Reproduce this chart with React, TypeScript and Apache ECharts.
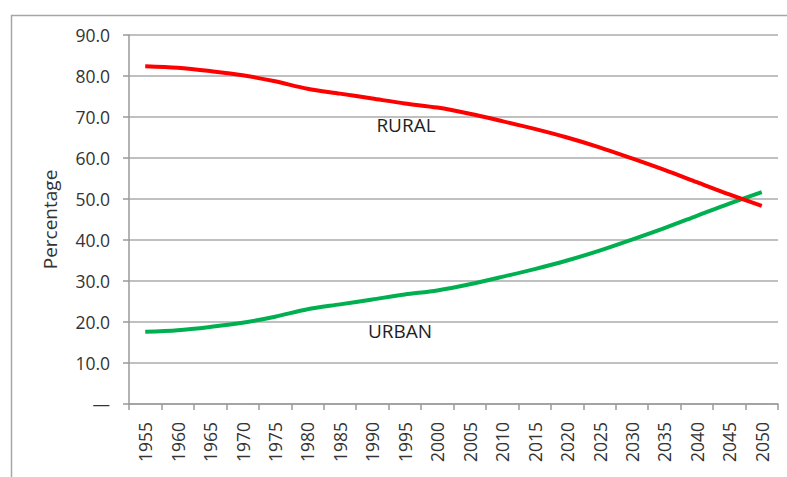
import React, { useEffect, useRef } from "react";
import * as echarts from "echarts";

const years = ["1955","1960","1965","1970","1975","1980","1985","1990","1995","2000","2005","2010","2015","2020","2025","2030","2035","2040","2045","2050"];
const rural = [82.4, 82.0, 81.2, 80.2, 78.7, 76.9, 75.7, 74.5, 73.3, 72.3, 70.8, 69.0, 67.1, 65.0, 62.6, 59.9, 57.1, 54.1, 51.1, 48.3];
const urban = [17.6, 18.0, 18.8, 19.8, 21.3, 23.1, 24.3, 25.5, 26.7, 27.7, 29.2, 31.0, 32.9, 35.0, 37.4, 40.1, 42.9, 45.9, 48.9, 51.7];
const seriesNames = ["RURAL", "URBAN"];
const yAxisTitle = "Percentage";

const FONT = "'Open Sans', 'Noto Sans', sans-serif";

export default function App() {
  const ref = useRef<HTMLDivElement>(null);
  useEffect(() => {
    if (!ref.current) return;
    const chart = echarts.init(ref.current, undefined, { renderer: "svg" });
    chart.setOption({
      animation: false,
      backgroundColor: "#ffffff",
      grid: { left: 129, top: 35, right: 9, bottom: 73, containLabel: false },
      xAxis: {
        type: "category",
        data: years,
        boundaryGap: true,
        axisLine: { show: true, lineStyle: { color: "#9a9a9a", width: 1.5 } },
        axisTick: { show: true, alignWithLabel: false, length: 6, lineStyle: { color: "#9a9a9a", width: 1.5 } },
        axisLabel: { rotate: 90, interval: 0, fontFamily: FONT, fontSize: 17.5, color: "#333333", margin: 18 },
        splitLine: { show: false },
      },
      yAxis: {
        type: "value",
        min: 0,
        max: 90,
        interval: 10,
        name: yAxisTitle,
        nameLocation: "middle",
        nameGap: 70,
        nameTextStyle: { fontFamily: FONT, fontSize: 19, color: "#333333" },
        axisLine: { show: true, lineStyle: { color: "#9a9a9a", width: 1.5 } },
        axisTick: { show: true, length: 6, lineStyle: { color: "#9a9a9a", width: 1.5 } },
        axisLabel: {
          fontFamily: FONT,
          fontSize: 17.5,
          color: "#333333",
          margin: 19,
          formatter: (v: number) => (v === 0 ? "—" : v.toFixed(1)),
        },
        splitLine: { show: true, lineStyle: { color: "#ababab", width: 1.5 } },
      },
      series: [
        {
          name: seriesNames[0],
          type: "line",
          data: rural,
          smooth: 0.3,
          symbol: "none",
          lineStyle: { color: "#ff0000", width: 4 },
          z: 3,
        },
        {
          name: seriesNames[1],
          type: "line",
          data: urban,
          smooth: 0.3,
          symbol: "none",
          lineStyle: { color: "#00b050", width: 4 },
          z: 2,
        },
      ],
      graphic: [
        {
          type: "rect",
          left: 9,
          top: 13,
          shape: { width: 800, height: 500 },
          style: { fill: "none", stroke: "#a6a6a6", lineWidth: 1.5 },
          silent: true,
        },
        {
          type: "text",
          x: 406,
          y: 125,
          style: { text: seriesNames[0], font: `19px ${FONT}`, fill: "#1f1f1f", align: "center", verticalAlign: "middle" },
        },
        {
          type: "text",
          x: 400,
          y: 331,
          style: { text: seriesNames[1], font: `19px ${FONT}`, fill: "#1f1f1f", align: "center", verticalAlign: "middle" },
        },
      ],
    });
    return () => chart.dispose();
  }, []);
  return <div ref={ref} style={{ position: "absolute", left: 0, top: 0, width: 787, height: 477 }} />;
}
